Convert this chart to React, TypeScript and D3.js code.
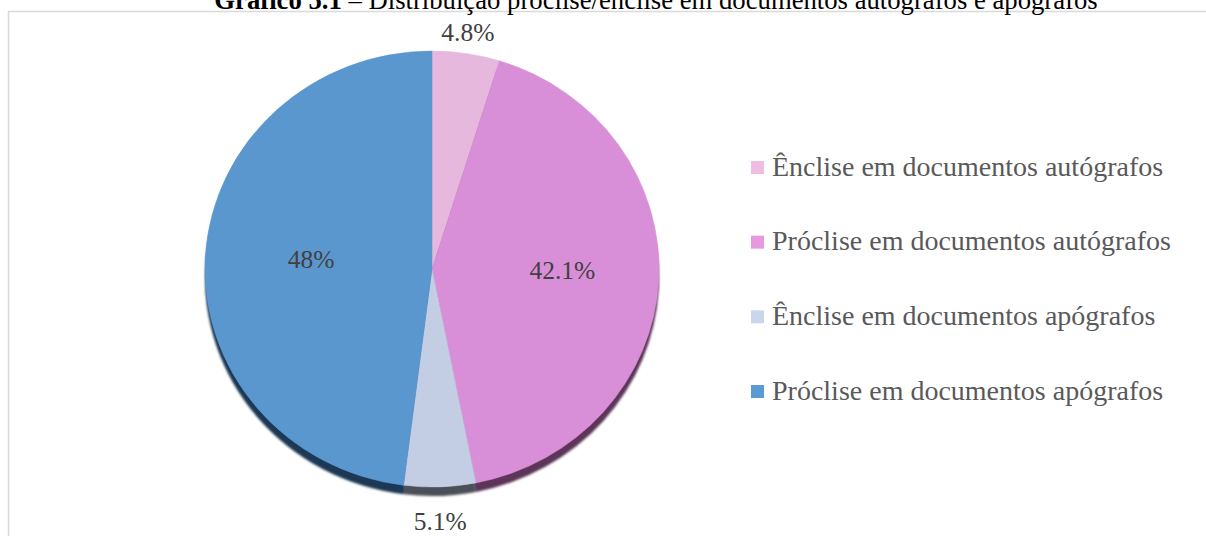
import React from 'react';
import * as d3 from 'd3';

const categories = [
  'Ênclise em documentos autógrafos',
  'Próclise em documentos autógrafos',
  'Ênclise em documentos apógrafos',
  'Próclise em documentos apógrafos',
];
const values = [4.8, 42.1, 5.1, 48];
const valueLabels = ['4.8%', '42.1%', '5.1%', '48%'];
const pieColors = ['#e6b8dd', '#d98fd8', '#c3cee5', '#5b97cf'];
const legendColors = ['#f0bde2', '#e699df', '#c9d6ec', '#5b9bd5'];
const shadowColors = ['#5e4560', '#5c3559', '#4b5058', '#1e3955'];
const titleBold = 'Gráfico 5.1';
const titleRest = ' – Distribuição próclise/ênclise em documentos autógrafos e apógrafos';

const W = 1206;
const H = 536;
const cx = 432;
const cy = 269;
const rx = 227;
const ry = 218;
const ky = ry / rx;
const depth = 9;
const font = "'Liberation Serif', 'Times New Roman', Tinos, Times, serif";

export default function App() {
  const pie = d3.pie<number>().sort(null).value((d) => d);
  const arcs = pie(values);
  const arc = d3.arc<d3.PieArcDatum<number>>().innerRadius(0).outerRadius(rx);
  const legendY = d3.scaleLinear().domain([0, categories.length - 1]).range([167.5, 391.5]);

  const labelPos = (a: d3.PieArcDatum<number>) => {
    const mid = (a.startAngle + a.endAngle) / 2;
    const frac = (a.endAngle - a.startAngle) / (2 * Math.PI);
    const s = Math.sin(mid);
    const c = -Math.cos(mid);
    if (frac > 0.15) {
      const r = rx * 0.43;
      return {
        x: cx + s * r,
        y: cy + c * r * ky + 5,
        anchor: s >= 0 ? 'start' : 'end',
      };
    }
    const r = rx + 12;
    const extra = c > 0 ? (depth + 6) * c : 0;
    return { x: cx + s * r, y: cy + c * (r * ky + 9 + extra) + 8, anchor: 'middle' };
  };

  return (
    <div style={{ position: 'absolute', left: 0, top: 0 }}>
      <svg width={W} height={H} style={{ display: 'block', background: '#fff', fontFamily: font }}>
        <defs>
          <filter id="blur" x="-10%" y="-10%" width="120%" height="120%">
            <feGaussianBlur stdDeviation="1.2" />
          </filter>
        </defs>
        <rect x={8.5} y={11.5} width={W + 20} height={H + 20} fill="#fff" stroke="#d9d9d9" strokeWidth={1.5} />
        <text x={656} y={8.5} textAnchor="middle" style={{ fontFamily: font }} fontSize={26.7} fill="#000">
          <tspan fontWeight="bold">{titleBold}</tspan>
          <tspan>{titleRest}</tspan>
        </text>
        <g transform={`translate(${cx},${cy + depth}) scale(1,${ky})`} filter="url(#blur)">
          {arcs.map((a, i) => (
            <path key={i} d={arc(a) || ''} fill={shadowColors[i]} />
          ))}
        </g>
        <g transform={`translate(${cx},${cy}) scale(1,${ky})`}>
          {arcs.map((a, i) => (
            <path key={i} d={arc(a) || ''} fill={pieColors[i]} stroke={pieColors[i]} strokeWidth={0.5} />
          ))}
        </g>
        {arcs.map((a, i) => {
          const p = labelPos(a);
          return (
            <text key={i} x={p.x} y={p.y} textAnchor={p.anchor} style={{ fontFamily: font }} fontSize={25.5} fill="#404040">
              {valueLabels[i]}
            </text>
          );
        })}
        {categories.map((c, i) => (
          <g key={i}>
            <rect x={751} y={legendY(i) - 6.5} width={13} height={13} fill={legendColors[i]} />
            <text x={772} y={legendY(i) + 8} style={{ fontFamily: font }} fontSize={28} fill="#595959">
              {c}
            </text>
          </g>
        ))}
      </svg>
    </div>
  );
}
